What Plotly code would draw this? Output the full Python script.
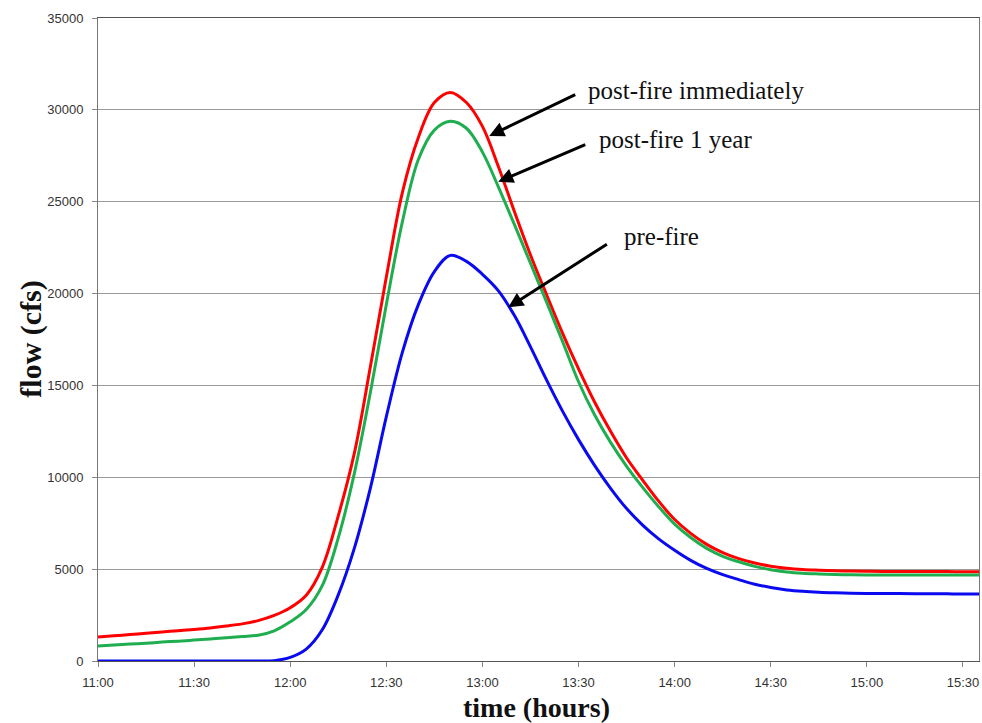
import plotly.graph_objects as go

# ---- data ----
TIMES = ["11:00", "11:05", "11:10", "11:15", "11:20", "11:25", "11:30", "11:35", "11:40", "11:45",
         "11:50", "11:55", "12:00", "12:05", "12:10", "12:15", "12:20", "12:25", "12:30", "12:35",
         "12:40", "12:45", "12:50", "12:55", "13:00", "13:05", "13:10", "13:15", "13:20", "13:25",
         "13:30", "13:35", "13:40", "13:45", "13:50", "13:55", "14:00", "14:05", "14:10", "14:15",
         "14:20", "14:25", "14:30", "14:35", "14:40", "14:45", "14:50", "14:55", "15:00", "15:05",
         "15:10", "15:15", "15:20", "15:25", "15:30", "15:35"]

post_fire_immediately = [1300, 1370, 1440, 1510, 1580, 1650, 1720, 1800, 1900, 2020,
                         2200, 2480, 2900, 3580, 5100, 7900, 11300, 16000, 20900, 25500,
                         28500, 30400, 30950, 30400, 29100, 26900, 24450, 22100, 19950, 17850,
                         15900, 14100, 12500, 11050, 9850, 8700, 7700, 6950, 6350, 5900,
                         5570, 5330, 5160, 5050, 4980, 4940, 4910, 4895, 4885, 4875,
                         4870, 4870, 4865, 4865, 4860, 4860]

post_fire_1_year = [820, 870, 920, 970, 1030, 1080, 1140, 1200, 1260, 1330,
                    1400, 1640, 2130, 2800, 4100, 6700, 10200, 14600, 19400, 23900,
                    27300, 28900, 29380, 29000, 27700, 25800, 23750, 21650, 19550, 17400,
                    15200, 13400, 11900, 10600, 9450, 8400, 7450, 6720, 6130, 5700,
                    5400, 5150, 4970, 4850, 4780, 4740, 4710, 4690, 4680, 4680,
                    4680, 4680, 4680, 4680, 4680, 4680]

pre_fire = [0, 0, 0, 0, 0, 0, 0, 0, 0, 0,
            0, 20, 200, 650, 1700, 3600, 6130, 9400, 13300, 16800,
            19400, 21200, 22080, 21750, 21050, 20150, 18800, 17100, 15300, 13600,
            12050, 10650, 9400, 8300, 7400, 6650, 6030, 5480, 5040, 4700,
            4430, 4180, 4000, 3870, 3790, 3740, 3710, 3690, 3680, 3675,
            3670, 3665, 3660, 3655, 3650, 3650]

Y_TICKS = [0, 5000, 10000, 15000, 20000, 25000, 30000, 35000]
X_TICKS = ["11:00", "11:30", "12:00", "12:30", "13:00", "13:30", "14:00", "14:30", "15:00", "15:30"]

DAY = "2000-01-01 "
x = [DAY + t for t in TIMES]

fig = go.Figure()
series = [
    ("post-fire immediately", post_fire_immediately, "#ff0000"),
    ("post-fire 1 year", post_fire_1_year, "#1fae4f"),
    ("pre-fire", pre_fire, "#0a0af0"),
]
for name, vals, col in series:
    fig.add_trace(go.Scatter(x=x, y=vals, mode="lines", name=name,
                             line=dict(color=col, width=3, shape="spline", smoothing=1.0)))

serif = "Liberation Serif"
ann_font = dict(family=serif, size=25, color="#111")

# arrows (head on the curve, tail near label)
arrows = [
    (DAY + "13:02:07", 28580, DAY + "13:29:26", 30865),
    (DAY + "13:04:56", 26090, DAY + "13:32:34", 28140),
    (DAY + "13:08:04", 19250, DAY + "13:39:19", 22740),
]
annotations = []
for hx, hy, tx, ty in arrows:
    annotations.append(dict(x=hx, y=hy, ax=tx, ay=ty, xref="x", yref="y", axref="x", ayref="y",
                            showarrow=True, arrowhead=2, arrowsize=1, arrowwidth=3,
                            arrowcolor="#000", text=""))
labels = [
    ("post-fire immediately", DAY + "13:32:20", 31045),
    ("post-fire 1 year", DAY + "13:35:41", 28360),
    ("pre-fire", DAY + "13:43:30", 23100),
]
for txt, lx, ly in labels:
    annotations.append(dict(x=lx, y=ly, xref="x", yref="y", text=txt, showarrow=False,
                            xanchor="left", yanchor="middle", font=ann_font))

annotations.append(dict(x=0.498, y=-0.073, xref="paper", yref="paper", text="<b>time (hours)</b>",
                        showarrow=False, xanchor="center", yanchor="middle",
                        font=dict(family=serif, size=28, color="#111")))
annotations.append(dict(x=-0.077, y=0.5, xref="paper", yref="paper", text="<b>flow (cfs)</b>",
                        showarrow=False, xanchor="center", yanchor="middle", textangle=-90,
                        font=dict(family=serif, size=30, color="#111")))

tick_font = dict(family="Liberation Sans", size=13, color="#333")

fig.update_layout(
    width=982, height=723,
    margin=dict(l=98, r=3, t=18, b=62),
    paper_bgcolor="white", plot_bgcolor="white",
    showlegend=False,
    annotations=annotations,
    xaxis=dict(type="date", range=[DAY + "11:00", DAY + "15:35"],
               tickvals=[DAY + t for t in X_TICKS], ticktext=X_TICKS,
               showgrid=False, zeroline=False,
               showline=True, linecolor="#555", linewidth=1, mirror=True,
               ticks="outside", ticklen=5, tickcolor="#888", tickfont=tick_font,
               ticklabelstandoff=4),
    yaxis=dict(range=[0, 35000], tickvals=Y_TICKS, ticktext=[str(v) for v in Y_TICKS],
               showgrid=True, gridcolor="#999", gridwidth=1, zeroline=False,
               showline=True, linecolor="#777", linewidth=1, mirror=True,
               ticks="outside", ticklen=5, tickcolor="#888", tickfont=tick_font,
               ticklabelstandoff=6),
)

# remove the default 8px page margin so the 982x723 figure fills the window exactly
fig.write_html("out.html",
               config={"displayModeBar": False},
               post_script="document.body.style.margin='0';document.body.style.overflow='hidden';")
